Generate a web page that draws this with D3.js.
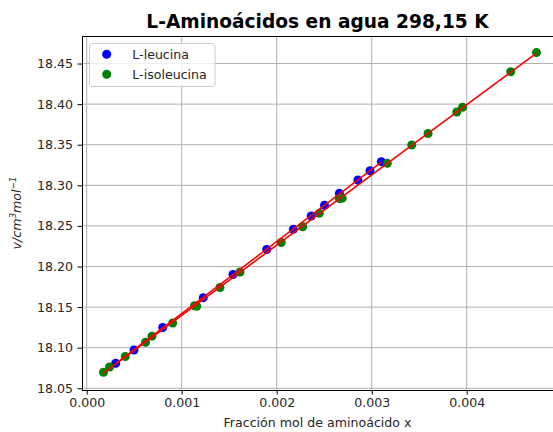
<!DOCTYPE html>
<html>
<head>
<meta charset="utf-8">
<script src="https://cdn.jsdelivr.net/npm/d3@7"></script>
<style>
  body { margin: 0; background: #fff; }
  svg text { font-family: "DejaVu Sans", sans-serif; fill: #262626; }
</style>
</head>
<body>
<div id="chart"></div>
<script>
// L-leucina (x, v)
var leuX = [0.000305, 0.000498, 0.000800, 0.001227, 0.001540, 0.001895, 0.002175,
            0.002363, 0.002503, 0.002659, 0.002854, 0.002982, 0.003101];
var leuV = [18.0808, 18.0972, 18.1249, 18.1616, 18.1901, 18.2209, 18.2458,
            18.2622, 18.2754, 18.2901, 18.3065, 18.3180, 18.3291];

// L-isoleucina (x, v)
var isoX = [0.000177, 0.000240, 0.000406, 0.000619, 0.000687, 0.000905, 0.001135, 0.001158,
            0.001403, 0.001614, 0.002048, 0.002274, 0.002448, 0.002660, 0.002690, 0.003164,
            0.003421, 0.003593, 0.003895, 0.003956, 0.004463, 0.004734];
var isoV = [18.0697, 18.0762, 18.0892, 18.1067, 18.1142, 18.1304, 18.1516, 18.1510,
            18.1741, 18.1932, 18.2296, 18.2490, 18.2655, 18.2838, 18.2842, 18.3271,
            18.3496, 18.3638, 18.3903, 18.3961, 18.4399, 18.4635];

var xTicks = [0.000, 0.001, 0.002, 0.003, 0.004];
var yTicks = [18.05, 18.10, 18.15, 18.20, 18.25, 18.30, 18.35, 18.40, 18.45];

var width = 553, height = 432;
var margin = {left: 82, right: 0, top: 36, bottom: 42};
var fs = "12.6px";

var svg = d3.select("#chart").append("svg")
  .attr("width", width).attr("height", height);

var x = d3.scaleLinear().domain([-0.0000495, 0.004908]).range([margin.left, width - margin.right]);
var y = d3.scaleLinear().domain([18.0479, 18.4839]).range([height - margin.bottom, margin.top]);

// grid
svg.append("g").selectAll("line").data(xTicks).enter().append("line")
  .attr("x1", d => x(d)).attr("x2", d => x(d))
  .attr("y1", margin.top).attr("y2", height - margin.bottom)
  .attr("stroke", "#b0b0b0").attr("stroke-width", 1);
svg.append("g").selectAll("line").data(yTicks).enter().append("line")
  .attr("x1", margin.left).attr("x2", width - margin.right)
  .attr("y1", d => y(d)).attr("y2", d => y(d))
  .attr("stroke", "#b0b0b0").attr("stroke-width", 1);

// axes
var xAxis = svg.append("g")
  .attr("transform", "translate(0," + (height - margin.bottom) + ")")
  .call(d3.axisBottom(x).tickValues(xTicks).tickFormat(d3.format(".3f")).tickSizeOuter(0).tickSize(4.5).tickPadding(4));
var yAxis = svg.append("g")
  .attr("transform", "translate(" + margin.left + ",0)")
  .call(d3.axisLeft(y).tickValues(yTicks).tickFormat(d3.format(".2f")).tickSizeOuter(0).tickSize(4.5).tickPadding(4.5));
[xAxis, yAxis].forEach(a => {
  a.selectAll("text").attr("font-size", fs);
  a.selectAll(".tick line").attr("stroke", "#000");
  a.select(".domain").remove();
});

// frame
svg.append("rect")
  .attr("x", margin.left + 0.5).attr("y", margin.top + 0.5)
  .attr("width", width - margin.left - margin.right).attr("height", height - margin.top - margin.bottom)
  .attr("fill", "none").attr("stroke", "#000").attr("stroke-width", 1);

// points
var leu = leuX.map((d, i) => [d, leuV[i]]);
var iso = isoX.map((d, i) => [d, isoV[i]]);

svg.append("g").selectAll("circle").data(leu).enter().append("circle")
  .attr("cx", d => x(d[0])).attr("cy", d => y(d[1])).attr("r", 4.5).attr("fill", "#0000ff");
svg.append("g").selectAll("circle").data(iso).enter().append("circle")
  .attr("cx", d => x(d[0])).attr("cy", d => y(d[1])).attr("r", 4.5).attr("fill", "#008000");

// least squares fit lines
function fit(pts){
  var mx = d3.mean(pts, d => d[0]), my = d3.mean(pts, d => d[1]);
  var sxy = d3.sum(pts, d => (d[0]-mx)*(d[1]-my));
  var sxx = d3.sum(pts, d => (d[0]-mx)*(d[0]-mx));
  var b = sxy / sxx, a = my - b*mx;
  var ext = d3.extent(pts, d => d[0]);
  return ext.map(v => [v, a + b*v]);
}
var line = d3.line().x(d => x(d[0])).y(d => y(d[1]));
[fit(leu), fit(iso)].forEach(f => {
  svg.append("path").attr("d", line(f)).attr("fill", "none")
    .attr("stroke", "#ff0000").attr("stroke-width", 1.6);
});

// title
svg.append("text").attr("x", (margin.left + width) / 2).attr("y", 28)
  .attr("text-anchor", "middle").attr("font-size", "18.6px").attr("font-weight", "bold")
  .style("fill", "#000")
  .text("L-Aminoácidos en agua 298,15 K");

// x label
svg.append("text").attr("x", (margin.left + width) / 2).attr("y", 426.5)
  .attr("text-anchor", "middle").attr("font-size", fs)
  .text("Fracción mol de aminoácido x");

// y label
var yl = svg.append("text")
  .attr("transform", "translate(21," + 213 + ") rotate(-90)")
  .attr("text-anchor", "middle").attr("font-size", fs).attr("font-style", "italic");
yl.append("tspan").text("v/cm");
yl.append("tspan").attr("font-size", "8.8px").attr("dy", -5).text("3");
yl.append("tspan").attr("dy", 5).text("mol");
yl.append("tspan").attr("font-size", "8.8px").attr("dy", -5).text("\u22121");

// legend
var legend = svg.append("g").attr("transform", "translate(89.5,43.5)");
legend.append("rect").attr("width", 125.5).attr("height", 43).attr("rx", 2.5)
  .attr("fill", "#fff").attr("fill-opacity", 0.8).attr("stroke", "#cccccc");
var names = ["L-leucina", "L-isoleucina"];
var colors = ["#0000ff", "#008000"];
names.forEach((n, i) => {
  legend.append("circle").attr("cx", 17.2).attr("cy", 10.8 + i * 20).attr("r", 4.5).attr("fill", colors[i]);
  legend.append("text").attr("x", 42.8).attr("y", 15.3 + i * 20).attr("font-size", fs).text(n);
});
</script>
</body>
</html>
